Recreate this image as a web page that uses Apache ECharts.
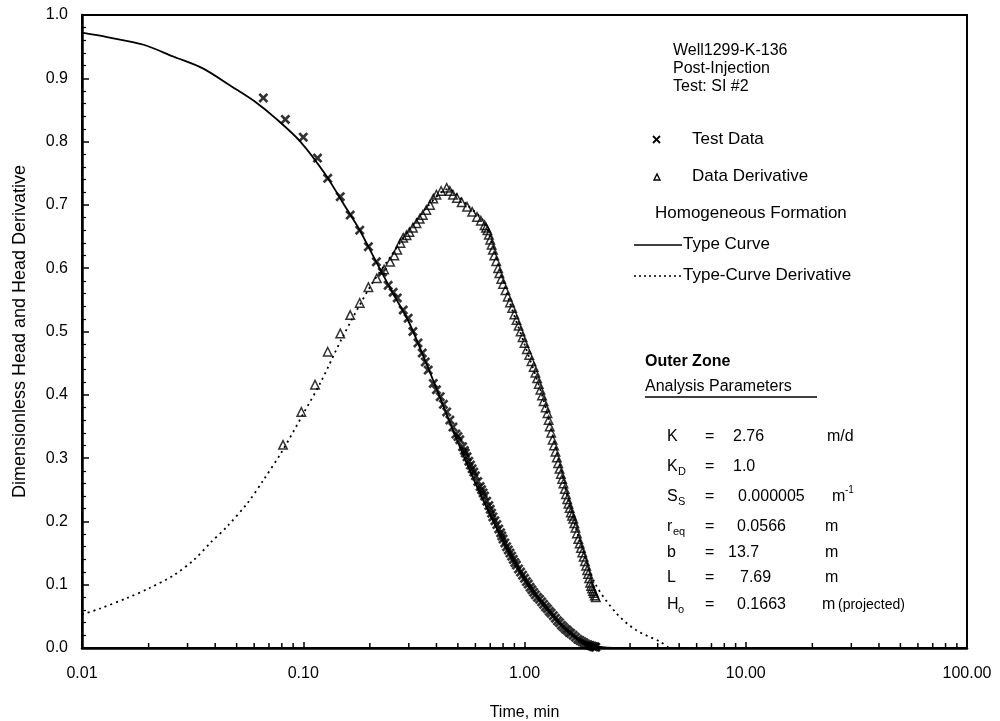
<!DOCTYPE html>
<html><head><meta charset="utf-8">
<script src="https://cdn.jsdelivr.net/npm/echarts@6/dist/echarts.min.js"></script>
<style>html,body{margin:0;padding:0;background:#fff}#c{width:1000px;height:721px}</style>
</head><body><div id="c"></div>
<script>
// ---------- data ----------
const minorXTicks = [0.02,0.03,0.04,0.05,0.06,0.07,0.08,0.09,
  0.2,0.3,0.4,0.5,0.6,0.7,0.8,0.9, 2,3,4,5,6,7,8,9, 20,30,40,50,60,70,80,90];

const typeCurveT = [0.01,0.013,0.019,0.026,0.035,0.048,0.06,0.076,0.097,0.126,0.15,0.18,0.21,0.25,0.3,0.35,0.4,0.5,0.6,0.7,0.85,1.0,1.2,1.5,1.8,2.1,2.5];
const typeCurveH = [0.972,0.965,0.953,0.934,0.916,0.886,0.864,0.835,0.800,0.748,0.705,0.660,0.615,0.565,0.515,0.460,0.410,0.325,0.260,0.210,0.152,0.110,0.070,0.033,0.012,0.003,0.0];

const typeDerivT = [0.01,0.012,0.016,0.02,0.026,0.032,0.038,0.045,0.056,0.066,0.08,0.1,0.12,0.15,0.2,0.25,0.3,0.37,0.45,0.55,0.65,0.72,0.85,1.0,1.2,1.4,1.6,1.85,2.1,2.6,3.2,4.1,4.5];
const typeDerivH = [0.053,0.062,0.079,0.094,0.115,0.139,0.166,0.191,0.229,0.265,0.310,0.370,0.420,0.490,0.570,0.620,0.660,0.700,0.725,0.700,0.675,0.635,0.550,0.480,0.400,0.310,0.225,0.150,0.100,0.055,0.028,0.010,0.0];

const testT = [0.066,0.083,0.100,0.116,0.129,0.147,0.163,0.180,0.197,0.214,0.228,0.242,0.255,0.266,0.283,0.298,0.313,0.330,0.345,0.356,0.367,0.387,0.400,0.416,0.430,0.445,0.460,0.475,
  0.49,0.50,0.51,0.525,0.535,0.54,0.55,0.56,0.57,0.58,0.59,0.60,0.615,0.63,0.64,0.65,0.66,0.675,0.69,0.70,0.71,0.72,0.735,0.75,0.765,0.78,0.79,0.80,0.815,0.83,0.845,0.86,0.875,0.89,0.905,0.92,0.94,0.96,0.98,
  1.0,1.02,1.04,1.06,1.08,1.10,1.12,1.145,1.17,1.195,1.22,1.245,1.27,1.295,1.32,1.35,1.38,1.41,1.44,1.47,1.50,1.53,1.56,1.59,1.62,1.66,1.70,1.74,1.78,1.82,1.86,1.90,1.94,1.98,2.02,2.05,2.08,2.1];
const testH = [0.869,0.835,0.807,0.774,0.742,0.713,0.684,0.660,0.634,0.610,0.594,0.573,0.562,0.553,0.534,0.521,0.500,0.482,0.466,0.452,0.439,0.418,0.408,0.397,0.385,0.373,0.360,0.349,
  0.338,0.334,0.329,0.318,0.312,0.308,0.302,0.295,0.289,0.283,0.278,0.272,0.263,0.255,0.250,0.245,0.240,0.232,0.225,0.219,0.213,0.207,0.201,0.195,0.188,0.182,0.177,0.172,0.166,0.160,0.155,0.150,0.145,0.140,0.135,0.131,0.125,0.120,0.115,
  0.110,0.105,0.101,0.096,0.092,0.088,0.084,0.080,0.077,0.073,0.069,0.065,0.062,0.058,0.055,0.051,0.047,0.043,0.040,0.036,0.033,0.030,0.028,0.025,0.023,0.020,0.017,0.014,0.012,0.010,0.008,0.006,0.005,0.004,0.003,0.002,0.002,0.001];

const derivT = [0.081,0.098,0.113,0.129,0.147,0.163,0.180,0.197,0.215,0.232,0.247,0.258,0.266,0.275,0.283,0.293,0.302,0.313,0.325,0.336,0.347,0.36,0.374,0.387,0.40,0.42,0.445,0.46,0.475,0.495,0.52,0.55,0.58,0.61,0.635,
  0.66,0.67,0.68,0.69,0.70,0.71,0.72,0.73,0.745,0.76,0.77,0.785,0.80,0.82,0.84,0.86,0.88,0.90,0.92,0.94,0.96,0.98,1.0,1.025,1.05,1.075,1.10,1.12,1.14,1.16,1.18,1.20,1.22,1.245,1.27,1.285,1.30,1.32,1.34,1.36,1.38,1.40,1.42,1.44,1.46,1.48,1.50,1.52,1.54,1.56,1.58,1.60,1.62,1.64,1.66,1.68,1.70,1.725,1.75,1.775,1.80,1.825,1.85,1.875,1.90,1.92,1.94,1.96,1.98,2.00,2.02,2.04,2.06,2.08,2.1];
const derivH = [0.321,0.373,0.416,0.468,0.497,0.526,0.545,0.570,0.584,0.598,0.610,0.620,0.629,0.640,0.648,0.652,0.657,0.664,0.671,0.678,0.684,0.692,0.700,0.710,0.716,0.722,0.727,0.722,0.716,0.711,0.704,0.697,0.689,0.681,0.675,
  0.668,0.664,0.660,0.653,0.645,0.637,0.629,0.620,0.611,0.600,0.592,0.583,0.575,0.565,0.555,0.546,0.537,0.527,0.518,0.509,0.500,0.491,0.482,0.472,0.463,0.453,0.444,0.435,0.426,0.417,0.408,0.399,0.390,0.380,0.371,0.360,0.350,0.340,0.329,0.320,0.310,0.301,0.292,0.283,0.275,0.267,0.260,0.251,0.243,0.235,0.228,0.221,0.214,0.209,0.204,0.197,0.190,0.181,0.172,0.165,0.158,0.151,0.144,0.137,0.130,0.123,0.117,0.110,0.103,0.098,0.094,0.090,0.087,0.083,0.080];

const headerLines = ['Well1299-K-136','Post-Injection','Test: SI #2'];
const legendLabels = ['Test Data','Data Derivative','Homogeneous Formation','Type Curve','Type-Curve Derivative'];

// ---------- chart ----------
const zip = (a,b) => a.map((v,i)=>[v,b[i]]);
const FF = '"Liberation Sans", Arial, sans-serif';
const TC = '#000';
const chart = echarts.init(document.getElementById('c'), null, {renderer:'canvas'});

const xPath = 'path://M0,1.9L1.9,0L5,3.1L8.1,0L10,1.9L6.9,5L10,8.1L8.1,10L5,6.9L1.9,10L0,8.1L3.1,5Z';

function txt(x, y, text, size, weight) {
  return {type:'text', x:x, y:y, silent:true, z:100,
    style:{text:text, fontSize:size, fontFamily:FF, fill:TC, fontWeight:weight||'normal', verticalAlign:'middle', textAlign:'left'}};
}
function seg(x1,y1,x2,y2,w,dash){
  const s = {stroke:'#000', lineWidth:w};
  if (dash) s.lineDash = dash;
  return {type:'line', silent:true, z:100, shape:{x1:x1,y1:y1,x2:x2,y2:y2}, style:s};
}
const g = [];
headerLines.forEach((s,i)=>g.push(txt(673, [51,69,87][i], s, 16)));
g.push(txt(692,139,legendLabels[0],17));
g.push(txt(692,176,legendLabels[1],17));
g.push(txt(655,213,legendLabels[2],17));
g.push(txt(683,244,legendLabels[3],17));
g.push(txt(683,275,legendLabels[4],17));
// legend symbols
g.push(seg(653,136,660,143,1.8));
g.push(seg(660,136,653,143,1.8));
g.push({type:'polygon', silent:true, z:100, shape:{points:[[654,180],[660,180],[657,174]]}, style:{stroke:'#000', lineWidth:1.4, fill:null}});
g.push(seg(634,245,682,245,1.6));
g.push(seg(634,276,682,276,1.6,[2,3]));
// parameters
g.push(txt(645,362,'Outer Zone',16,'bold'));
g.push(txt(645,387,'Analysis Parameters',16));
g.push(seg(645,397,817,397,1.5));
const rowsY = [437,467,497,527,553,578,605];
const lhs = ['K','K','S','r','b','L','H'];
const subs = [null,'D','S','eq',null,null,'o'];
const vals = ['2.76','1.0','0.000005','0.0566','13.7','7.69','0.1663'];
const valX = [733,733,738,737,728,740,737];
const units = ['m/d','','m','m','m','m','m'];
const unitX = [827,0,832,825,825,825,822];
rowsY.forEach((y,i)=>{
  g.push(txt(667,y,lhs[i],16));
  if (subs[i]) g.push(txt(lhs[i]==='r'?673:678, y+5, subs[i], 11));
  g.push(txt(705,y,'=',16));
  g.push(txt(valX[i],y,vals[i],16));
  if (units[i]) g.push(txt(unitX[i],y,units[i],16));
});
g.push(txt(845,490,'-1',10));
g.push(txt(838,605,'(projected)',14));

const option = {
  animation:false,
  backgroundColor:'#fff',
  grid:{left:82, right:33, top:15, bottom:73, outerBoundsMode:'none', containLabel:false,
    show:true, borderColor:'#000', borderWidth:2, backgroundColor:'transparent'},
  xAxis:{type:'log', logBase:10, min:0.01, max:100,
    name:'Time, min', nameLocation:'middle', nameGap:57,
    nameTextStyle:{fontSize:16, fontFamily:FF, color:TC},
    axisLine:{show:true, lineStyle:{color:'#000', width:2.5}},
    axisTick:{show:true, inside:true, length:6, lineStyle:{color:'#000', width:1.5}},
    axisLabel:{margin:18, fontSize:16, fontFamily:FF, color:TC, formatter:v=>Number(v).toFixed(2)},
    splitLine:{show:false}, minorTick:{show:false}, minorSplitLine:{show:false}},
  yAxis:{type:'value', min:0, max:1, interval:0.1,
    name:'Dimensionless Head and Head Derivative', nameLocation:'middle', nameGap:53,
    nameTextStyle:{fontSize:18, fontFamily:FF, color:TC},
    axisLine:{show:true, lineStyle:{color:'#000', width:2.5}},
    axisTick:{show:true, inside:true, length:7, lineStyle:{color:'#000', width:1.5}},
    minorTick:{show:true, splitNumber:5, length:4, lineStyle:{color:'#000', width:1.2}},
    axisLabel:{margin:14, fontSize:16, fontFamily:FF, color:TC, formatter:v=>v.toFixed(1)},
    splitLine:{show:false}},
  series:[
    {type:'custom', coordinateSystem:'cartesian2d', silent:true, z:5,
      data: minorXTicks.map(v=>[v,0]),
      renderItem:(params,api)=>{const p=api.coord([api.value(0),0]);
        return {type:'line', shape:{x1:p[0],y1:p[1],x2:p[0],y2:p[1]-5}, style:{stroke:'#000', lineWidth:1.5}};}},
    {name:'Type Curve', type:'line', data:zip(typeCurveT,typeCurveH), showSymbol:false, smooth:0.3,
      lineStyle:{color:'#000', width:1.8}, z:3},
    {name:'Type-Curve Derivative', type:'line', data:zip(typeDerivT,typeDerivH), showSymbol:false, smooth:0.3,
      lineStyle:{color:'#000', width:1.8, type:[2,4]}, z:3},
    {name:'Test Data', type:'scatter', data:zip(testT,testH), symbol:xPath, symbolSize:10,
      itemStyle:{color:'#000'}, z:4},
    {name:'Data Derivative', type:'scatter', data:zip(derivT,derivH), symbol:'triangle', symbolSize:8.5,
      itemStyle:{color:'rgba(0,0,0,0)', borderColor:'#000', borderWidth:1.5}, z:4}
  ],
  graphic:g
};
chart.setOption(option);
</script>
</body></html>
